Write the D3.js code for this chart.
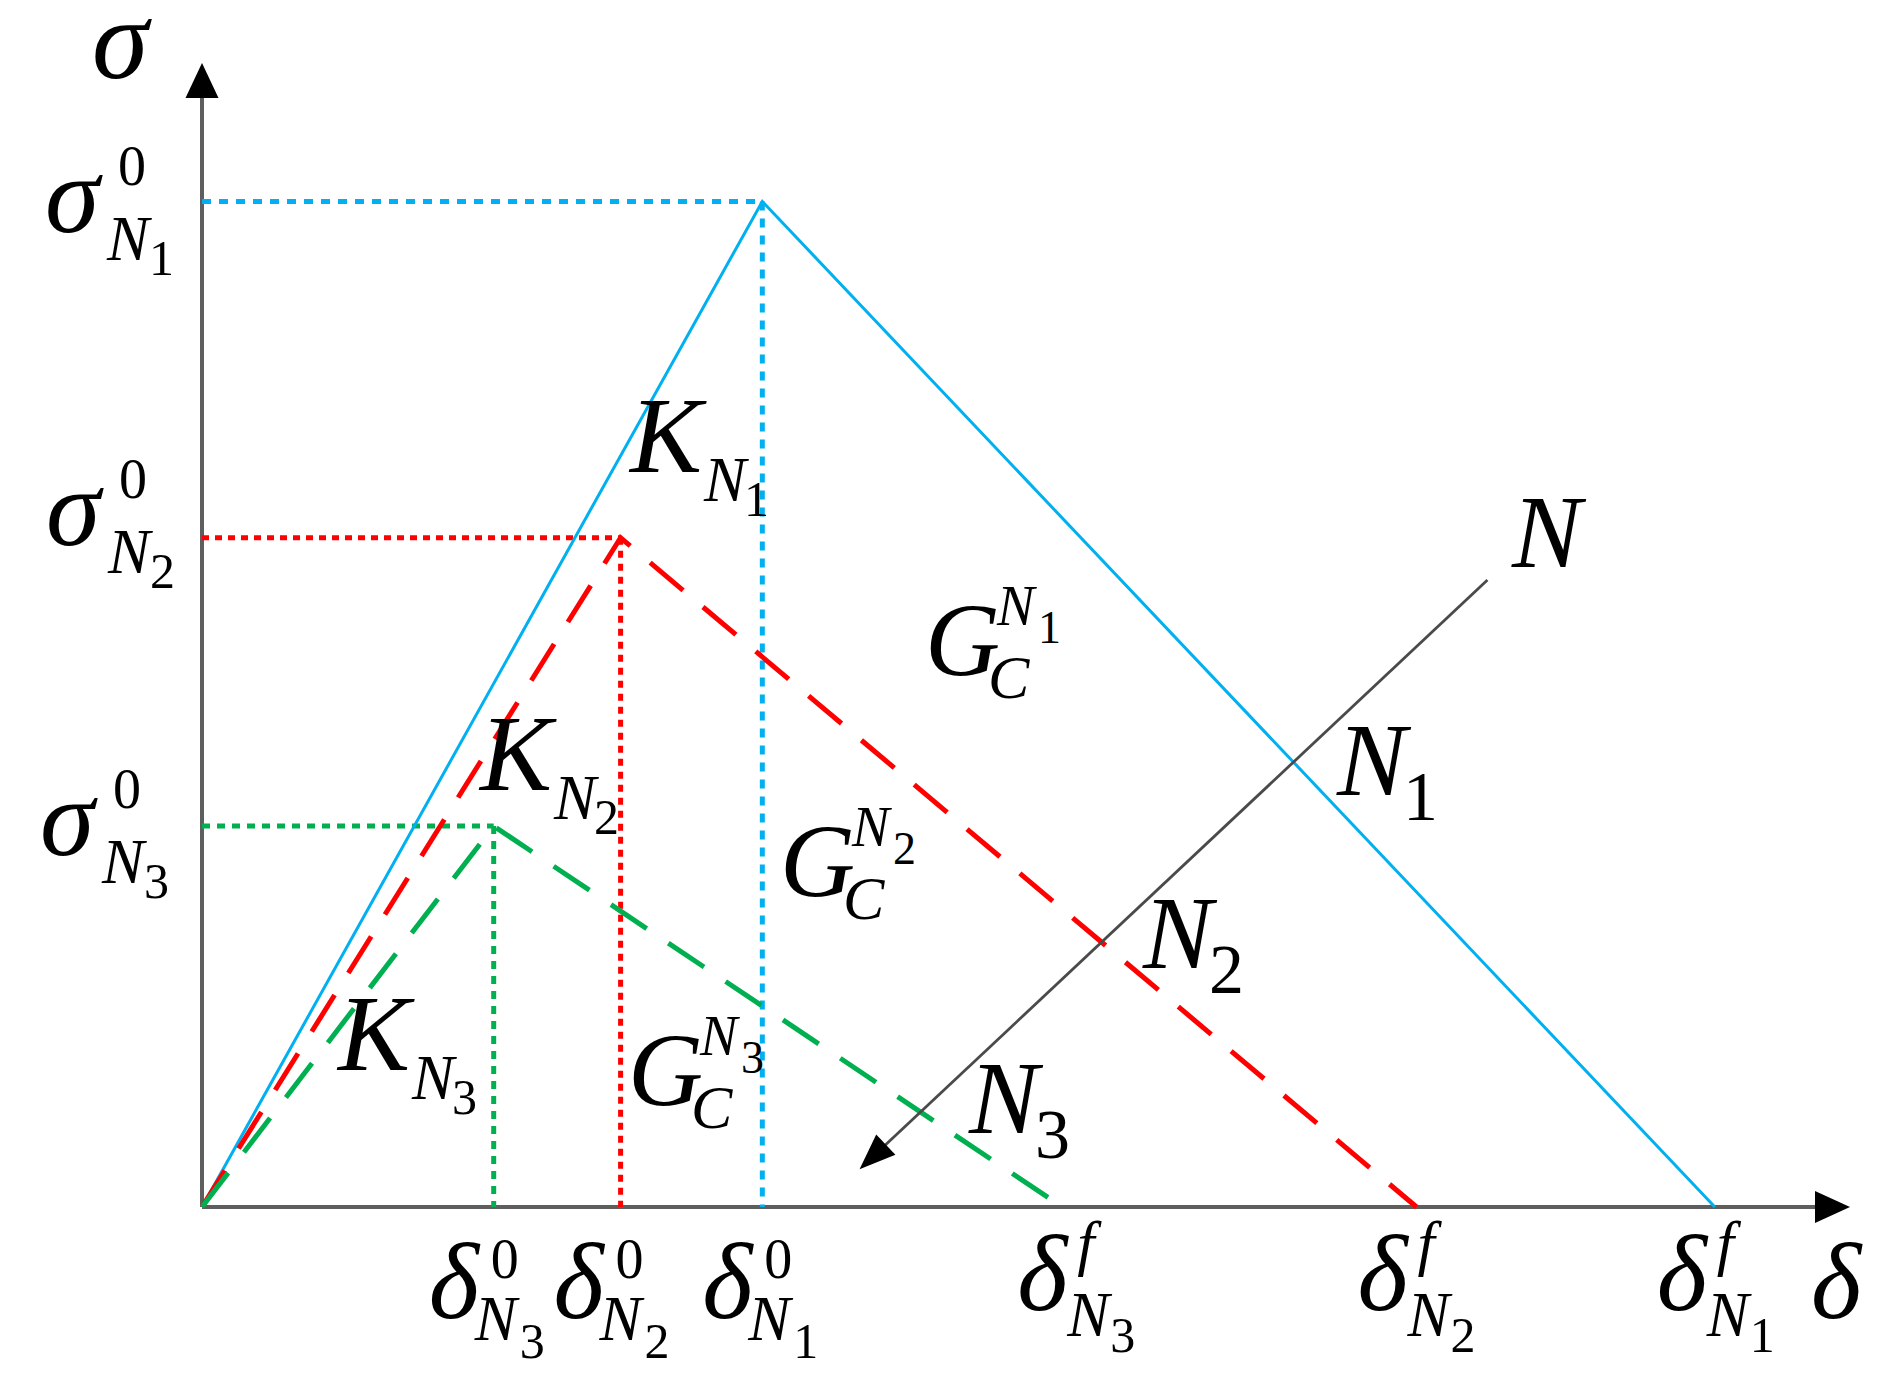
<!DOCTYPE html>
<html>
<head>
<meta charset="utf-8">
<script src="https://cdn.jsdelivr.net/npm/d3@7"></script>
<style>
  html, body { margin: 0; padding: 0; background: #ffffff; }
  svg { display: block; }
  text { font-family: "Liberation Serif", "Times New Roman", serif; fill: #000; }
</style>
</head>
<body>
<script>
// ---------------- data (abstract units) ----------------
const series   = ["1", "2", "3"];          // N1, N2, N3
const colors   = ["#00B0F0", "#FF0000", "#00B050"];
const delta0   = [34.0, 25.4, 17.7];       // δ0 (damage onset)
const sigma0   = [87.9, 58.5, 33.3];       // σ0 (peak traction)
const deltaF   = [91.8, 73.7, 52.2];       // δf (final separation)
const nArrowFrom = [78.0, 54.8];           // "N" arrow start (δ, σ)
const nArrowTo   = [39.9, 3.3];            // "N" arrow tip  (δ, σ)
const axisMax  = [100, 100];

// ---------------- layout ----------------
const W = 1884, H = 1384;
const x = d3.scaleLinear().domain([0, axisMax[0]]).range([202, 1850]);
const y = d3.scaleLinear().domain([0, axisMax[1]]).range([1207, 63]);

const svg = d3.select("body").append("svg").attr("width", W).attr("height", H);
svg.append("rect").attr("width", W).attr("height", H).attr("fill", "#fff");

const line = d3.line().x(d => x(d[0])).y(d => y(d[1]));

// ---------------- axes ----------------
const axisColor = "#5e5e5e";
const axG = svg.append("g");
function arrowHead(g, tip, angle, len, wid, fill) {
  const ca = Math.cos(angle), sa = Math.sin(angle);
  const bx = tip[0] - len * ca, by = tip[1] - len * sa;
  const px = -sa * wid / 2, py = ca * wid / 2;
  g.append("path")
    .attr("d", `M${tip[0]},${tip[1]}L${bx + px},${by + py}L${bx - px},${by - py}Z`)
    .attr("fill", fill);
}
// x axis
axG.append("line")
  .attr("x1", x(0)).attr("y1", y(0)).attr("x2", x(axisMax[0]) - 20).attr("y2", y(0))
  .attr("stroke", axisColor).attr("stroke-width", 4);
arrowHead(axG, [x(axisMax[0]), y(0)], 0, 35, 32, "#000");
// y axis
axG.append("line")
  .attr("x1", x(0)).attr("y1", y(0)).attr("x2", x(0)).attr("y2", y(axisMax[1]) + 20)
  .attr("stroke", axisColor).attr("stroke-width", 4);
arrowHead(axG, [x(0), y(axisMax[1])], -Math.PI / 2, 35, 33, "#000");

// ---------------- dotted guide lines ----------------
const dotDash = ["9,8", "7,6", "8,7"];
const guides = svg.append("g");
series.forEach((s, i) => {
  guides.append("path")
    .attr("d", line([[0, sigma0[i]], [delta0[i], sigma0[i]]]))
    .attr("fill", "none").attr("stroke", colors[i]).attr("stroke-width", 5)
    .attr("stroke-dasharray", dotDash[i]);
  guides.append("path")
    .attr("d", line([[delta0[i], sigma0[i]], [delta0[i], 0]]))
    .attr("fill", "none").attr("stroke", colors[i]).attr("stroke-width", 5)
    .attr("stroke-dasharray", dotDash[i]);
});

// ---------------- traction-separation curves ----------------
const curves = svg.append("g");
series.forEach((s, i) => {
  curves.append("path")
    .attr("d", line([[0, 0], [delta0[i], sigma0[i]], [deltaF[i], 0]]))
    .attr("fill", "none")
    .attr("stroke", colors[i])
    .attr("stroke-width", i === 0 ? 3 : 5)
    .attr("stroke-linejoin", "miter")
    .attr("stroke-dasharray", i === 0 ? null : "43,26");
});

// ---------------- N arrow ----------------
const nG = svg.append("g");
const fx = x(nArrowFrom[0]), fy = y(nArrowFrom[1]);
const tx = x(nArrowTo[0]), ty = y(nArrowTo[1]);
const ang = Math.atan2(ty - fy, tx - fx);
nG.append("line")
  .attr("x1", fx).attr("y1", fy)
  .attr("x2", tx - 20 * Math.cos(ang)).attr("y2", ty - 20 * Math.sin(ang))
  .attr("stroke", "#4a4a4a").attr("stroke-width", 2.8);
arrowHead(nG, [tx, ty], ang, 36, 28, "#000");

// ---------------- labels ----------------
const T = svg.append("g");
function label(px, py, parts) {
  parts.forEach(p => {
    T.append("text")
      .attr("x", px + (p.dx || 0))
      .attr("y", py + (p.dy || 0))
      .attr("font-size", p.size)
      .attr("font-style", p.it ? "italic" : "normal")
      .text(p.t);
  });
}
const BIG = 104;

// axis titles
label(92, 78, [{ t: "σ", size: 114, it: true }]);
label(1811, 1318, [{ t: "δ", size: 108, it: true }]);

// σ0 labels on y axis
const sigLabX = [45, 46, 40];
const sigLabDy = [31, 7, 29];
series.forEach((s, i) => {
  label(sigLabX[i], y(sigma0[i]) + sigLabDy[i], [
    { t: "σ", size: 110, it: true },
    { t: "0", dx: 73, dy: -47, size: 56 },
    { t: "N", dx: 62, dy: 28, size: 63, it: true },
    { t: s, dx: 104, dy: 43, size: 50 }
  ]);
});

// δ0 labels on x axis
const d0LabDx = [-60, -67, -65];
series.forEach((s, i) => {
  label(x(delta0[i]) + d0LabDx[i], 1318, [
    { t: "δ", size: 108, it: true },
    { t: "0", dx: 62, dy: -40, size: 56 },
    { t: "N", dx: 46, dy: 22, size: 63, it: true },
    { t: s, dx: 91, dy: 40, size: 50 }
  ]);
});

// δf labels on x axis
const dfLabDx = [-58, -59, -45];
series.forEach((s, i) => {
  label(x(deltaF[i]) + dfLabDx[i], 1310, [
    { t: "δ", size: 108, it: true },
    { t: "f", dx: 60, dy: -46, size: 62, it: true },
    { t: "N", dx: 50, dy: 26, size: 63, it: true },
    { t: s, dx: 93, dy: 42, size: 50 }
  ]);
});

// K labels (stiffness)
const kPos = [[630, 472], [480, 790], [338, 1070]];
series.forEach((s, i) => {
  label(kPos[i][0], kPos[i][1], [
    { t: "K", size: 108, it: true },
    { t: "N", dx: 74, dy: 29, size: 63, it: true },
    { t: s, dx: 114, dy: 44, size: 50 }
  ]);
});

// G labels (fracture energy)
const gPos = [[925, 675], [780, 896], [628, 1105]];
series.forEach((s, i) => {
  label(gPos[i][0], gPos[i][1], [
    { t: "G", size: BIG, it: true },
    { t: "N", dx: 72, dy: -50, size: 56, it: true },
    { t: s, dx: 113, dy: -32, size: 46 },
    { t: "C", dx: 63, dy: 23, size: 62, it: true }
  ]);
});

// N labels along the arrow
label(1512, 567, [{ t: "N", size: BIG, it: true }]);
const nPos = [[1337, 795], [1143, 968], [969, 1133]];
series.forEach((s, i) => {
  label(nPos[i][0], nPos[i][1], [
    { t: "N", size: BIG, it: true },
    { t: s, dx: 66, dy: 25, size: 70 }
  ]);
});
</script>
</body>
</html>
